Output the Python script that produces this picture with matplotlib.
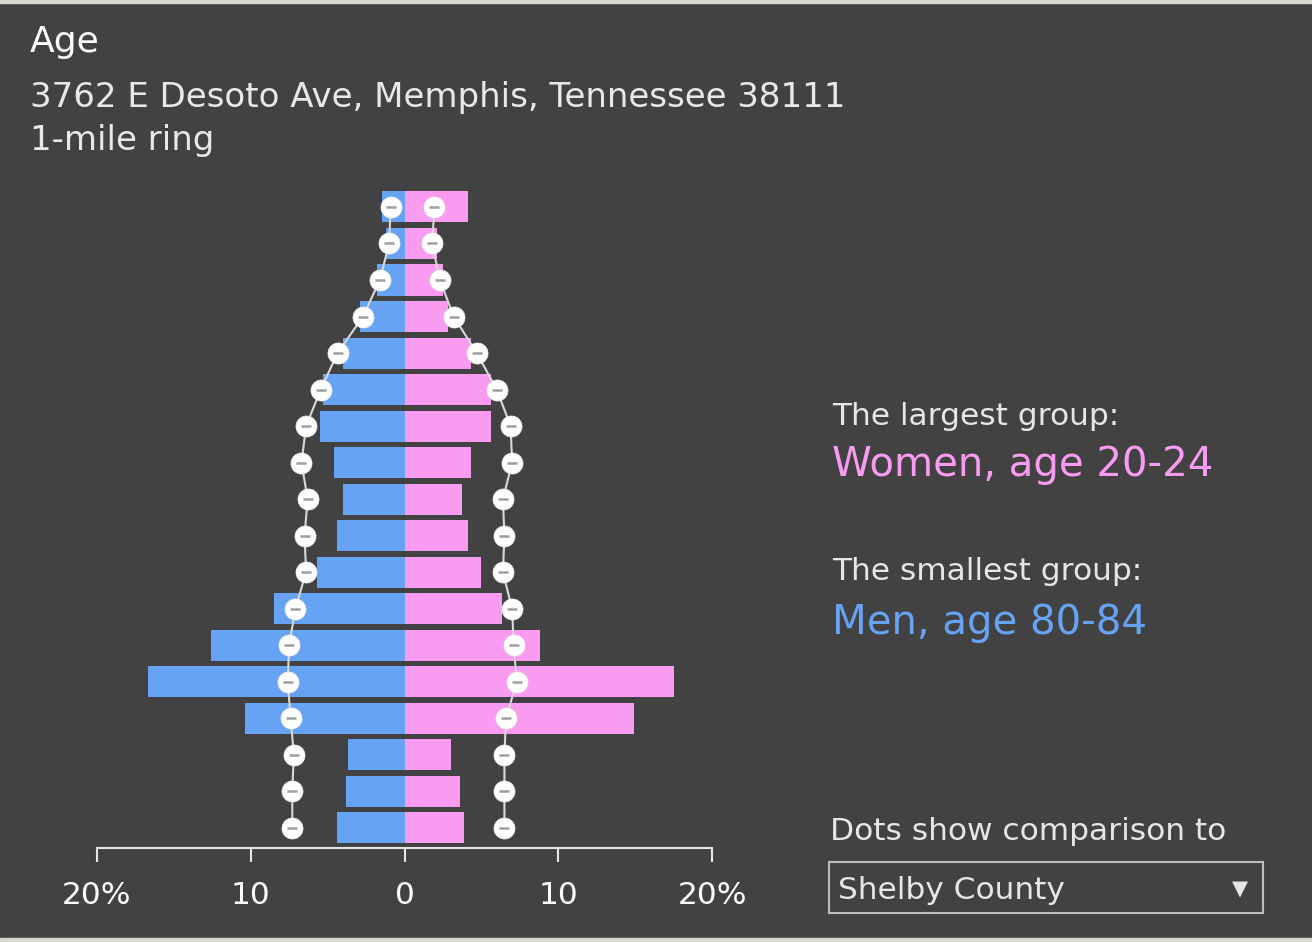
import numpy as np
import matplotlib.pyplot as plt
from matplotlib.patches import Rectangle

# age groups, bottom to top
ages = ['0-4', '5-9', '10-14', '15-19', '20-24', '25-29', '30-34', '35-39', '40-44',
        '45-49', '50-54', '55-59', '60-64', '65-69', '70-74', '75-79', '80-84', '85+']
# share of population (%) in the 1-mile ring
men = [4.4, 3.8, 3.7, 10.4, 16.7, 12.6, 8.5, 5.7, 4.4, 4.0, 4.6, 5.5, 5.3, 4.0, 2.9, 1.8, 1.2, 1.45]
women = [3.9, 3.6, 3.0, 14.9, 17.5, 8.8, 6.35, 5.0, 4.1, 3.75, 4.3, 5.6, 5.6, 4.3, 2.8, 2.5, 2.1, 4.1]
# comparison (Shelby County) dots
cmp_men = [7.3, 7.3, 7.2, 7.4, 7.6, 7.5, 7.1, 6.4, 6.5, 6.3, 6.7, 6.4, 5.45, 4.35, 2.7, 1.6, 1.0, 0.9]
cmp_women = [6.5, 6.5, 6.5, 6.6, 7.3, 7.1, 7.0, 6.4, 6.5, 6.4, 7.0, 6.9, 6.0, 4.7, 3.2, 2.3, 1.8, 1.95]

tick_vals = [-20, -10, 0, 10, 20]
tick_labels = ['20%', '10', '0', '10', '20%']

W, H = 1312, 942
bg = '#424242'
blue = '#67a3f5'
pink = '#f99bf0'

fig = plt.figure(figsize=(W / 100, H / 100), dpi=100, facecolor=bg)

def fx(x):
    return x / W

def fy(y):
    return 1 - y / H

# map strip at top/bottom edges
fig.patches.append(Rectangle((0, fy(3)), 1, 3 / H, transform=fig.transFigure, color='#d8d8cc', zorder=0))
fig.patches.append(Rectangle((0, 0), 1, 4 / H, transform=fig.transFigure, color='#d8d8cc', zorder=0))

# plot area: x -20..20 maps to px 97..712, spine at y=848
ax = fig.add_axes([fx(97), fy(848), fx(712) - fx(97), (848 - 185) / H])
ax.set_facecolor(bg)

y = np.arange(len(ages))
ax.barh(y, -np.array(men), height=0.85, color=blue, zorder=2)
ax.barh(y, women, height=0.85, color=pink, zorder=2)

# comparison dots
for vals in (-np.array(cmp_men), np.array(cmp_women)):
    ax.plot(vals, y, color='#d9d9d9', lw=1.5, zorder=3)
    ax.scatter(vals, y, s=230, color='white', edgecolor='#eeeeee', lw=0.5, zorder=4)
    ax.scatter(vals, y, s=60, marker='_', color='#a0a0a0', lw=1.8, zorder=5)

ax.set_xlim(-20, 20)
ax.set_ylim(-0.55, 17.6)
ax.set_yticks([])
ax.set_xticks(tick_vals)
ax.set_xticklabels(tick_labels, fontsize=22.5, color='white')
ax.tick_params(axis='x', length=10, width=1.5, color='#e6e6e6', pad=14)
for s in ['top', 'left', 'right']:
    ax.spines[s].set_visible(False)
ax.spines['bottom'].set_color('#e6e6e6')
ax.spines['bottom'].set_linewidth(1.5)

# titles
fig.text(fx(30), fy(52), 'Age', fontsize=26, color='white', va='baseline')
fig.text(fx(30), fy(107), '3762 E Desoto Ave, Memphis, Tennessee 38111', fontsize=24.5,
         color='#e8e8e8', va='baseline')
fig.text(fx(30), fy(150), '1-mile ring', fontsize=24.5, color='#e8e8e8', va='baseline')

# side notes
fig.text(fx(832), fy(425), 'The largest group:', fontsize=22.5, color='#e6e6e6', va='baseline')
fig.text(fx(832), fy(476), 'Women, age 20-24', fontsize=29, color=pink, va='baseline')
fig.text(fx(832), fy(580), 'The smallest group:', fontsize=22.5, color='#e6e6e6', va='baseline')
fig.text(fx(832), fy(634), 'Men, age 80-84', fontsize=29, color=blue, va='baseline')
fig.text(fx(830), fy(840), 'Dots show comparison to', fontsize=22.5, color='#e6e6e6', va='baseline')

# dropdown box
fig.patches.append(Rectangle((fx(829), fy(913)), (1263 - 829) / W, (913 - 862) / H,
                             transform=fig.transFigure, fill=False, edgecolor='#bdbdbd', lw=1.5))
fig.text(fx(838), fy(899), 'Shelby County', fontsize=22.5, color='#e6e6e6', va='baseline')
fig.text(fx(1240), fy(889), '\u25BC', fontsize=15, color='#e6e6e6', ha='center', va='center')

fig.savefig('out.png', dpi=100, facecolor=bg)
